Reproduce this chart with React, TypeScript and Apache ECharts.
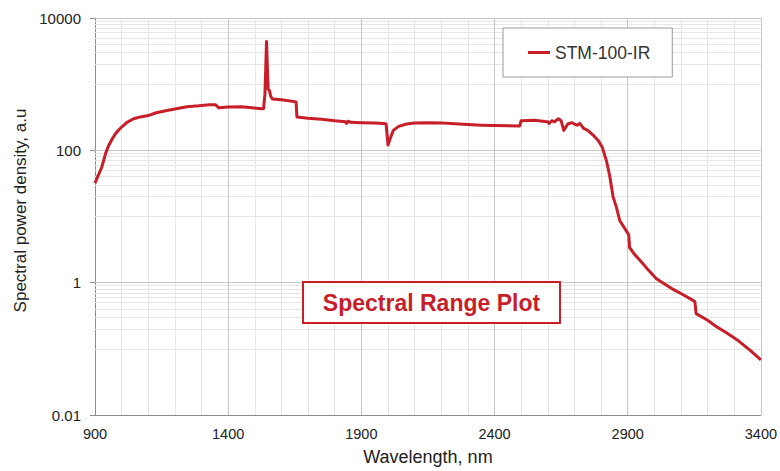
import React, { useEffect, useRef } from "react";
import * as echarts from "echarts";

const wavelengths = [
  900, 910, 925, 940, 950, 965, 980, 1000, 1020, 1045, 1070, 1100, 1130, 1170, 1200, 1245, 1290, 1330, 1352, 1365,
  1400, 1450, 1490, 1527, 1533, 1538, 1544, 1550, 1555, 1560, 1566, 1600, 1655, 1658, 1700, 1750, 1800, 1840, 1845,
  1850, 1860, 1900, 1950, 1985, 1993, 2000, 2008, 2020, 2040, 2070, 2100, 2150, 2200, 2250, 2300, 2350, 2400, 2450,
  2495, 2500, 2550, 2590, 2600, 2605, 2615, 2625, 2640, 2650, 2660, 2675, 2690, 2700, 2710, 2720, 2735, 2750, 2770,
  2790, 2805, 2820, 2832, 2845, 2858, 2870, 2890, 2904, 2907, 2925, 2945, 2975, 3008, 3040, 3071, 3110, 3145, 3152,
  3157, 3200, 3231, 3275, 3317, 3360, 3400,
];
const density = [
  32, 40, 55, 90, 115, 150, 185, 225, 265, 300, 320, 335, 370, 400, 420, 455, 470, 490, 490, 440,
  450, 455, 440, 425, 430, 700, 4400, 840, 800, 650, 597, 580, 540, 320, 305, 295, 280, 270, 255,
  275, 265, 262, 258, 255, 250, 120, 150, 200, 230, 250, 258, 262, 260, 252, 245, 240, 237, 235,
  234, 280, 285, 272, 270, 255, 280, 270, 300, 280, 200, 250, 262, 250, 240, 255, 214, 200, 170,
  140, 110, 70, 42, 20, 13.6, 8.7, 6.5, 5.3, 3.4, 2.7, 2.2, 1.6, 1.15, 0.95, 0.79, 0.65, 0.54, 0.52,
  0.34, 0.27, 0.22, 0.17, 0.131, 0.095, 0.068,
];

const xMajorLines = [1400, 1900, 2400, 2900, 3400];
const yMajorLines = [10000, 100, 1];
const yMinorLines = [
  1000, 2000, 3000, 4000, 5000, 6000, 7000, 8000, 9000,
  10, 20, 30, 40, 50, 60, 70, 80, 90,
  0.1, 0.2, 0.3, 0.4, 0.5, 0.6, 0.7, 0.8, 0.9,
];

const RED = "#c81e29";
const FONT = "Liberation Sans, Arial, Helvetica, sans-serif";

export default function App() {
  const ref = useRef<HTMLDivElement>(null);
  useEffect(() => {
    if (!ref.current) return;
    document.body.style.margin = "0";
    document.body.style.overflow = "hidden";
    document.documentElement.style.overflow = "hidden";
    const chart = echarts.init(ref.current, undefined, { renderer: "svg" });
    const data = wavelengths.map((w, i) => [w, density[i]]);
    chart.setOption({
      animation: false,
      backgroundColor: "#ffffff",
      textStyle: { fontFamily: FONT },
      grid: { left: 95, right: 17, top: 18, bottom: 51, containLabel: false },
      legend: {
        data: ["STM-100-IR"],
        left: 503,
        top: 28,
        z: 20,
        padding: [15, 22, 15, 25],
        backgroundColor: "#ffffff",
        borderColor: "#9a9a9a",
        borderWidth: 1,
        icon: "rect",
        itemWidth: 22,
        itemHeight: 3,
        itemGap: 7,
        textStyle: { fontSize: 17.5, color: "#333333", fontFamily: FONT, lineHeight: 19 },
      },
      xAxis: {
        type: "value",
        min: 900,
        max: 3400,
        interval: 100,
        name: "Wavelength, nm",
        nameLocation: "middle",
        nameGap: 33,
        nameTextStyle: { fontSize: 18, color: "#222222", fontFamily: FONT },
        axisLine: { show: true, lineStyle: { color: "#8c8c8c", width: 1 } },
        axisTick: { show: false },
        axisLabel: {
          fontSize: 14.5,
          color: "#222222",
          margin: 11,
          fontFamily: FONT,
          formatter: (v: number) => ((v - 900) % 500 === 0 ? String(v) : ""),
        },
        splitLine: { show: true, lineStyle: { color: "#e6e6e6", width: 1 } },
      },
      yAxis: {
        type: "log",
        logBase: 10,
        min: 0.01,
        max: 10000,
        interval: 2,
        axisLine: { show: true, lineStyle: { color: "#8c8c8c", width: 1 } },
        axisTick: { show: true, length: 5, lineStyle: { color: "#8c8c8c" } },
        axisLabel: {
          fontSize: 15,
          color: "#222222",
          margin: 14,
          fontFamily: FONT,
          formatter: (v: number) => {
            const e = Math.round(Math.log10(v));
            if (e % 2 !== 0) return "";
            return e < 0 ? (0.01).toString() : String(Math.pow(10, e));
          },
        },
        splitLine: { show: true, lineStyle: { color: "#c8c8c8", width: 1 } },
      },
      series: [
        {
          name: "grid",
          type: "line",
          data: [],
          silent: true,
          z: 1,
          markLine: {
            silent: true,
            z: 1,
            symbol: ["none", "none"],
            label: { show: false },
            animation: false,
            data: [
              ...yMinorLines.map((v) => ({ yAxis: v, lineStyle: { color: "#e6e6e6", width: 1, type: "solid" } })),
              ...yMajorLines.map((v) => ({ yAxis: v, lineStyle: { color: "#c8c8c8", width: 1, type: "solid" } })),
              ...xMajorLines.map((v) => ({ xAxis: v, lineStyle: { color: "#c8c8c8", width: 1, type: "solid" } })),
            ],
          },
        },
        {
          name: "STM-100-IR",
          type: "line",
          data,
          z: 5,
          showSymbol: false,
          symbol: "none",
          color: RED,
          lineStyle: { color: RED, width: 3, join: "round" },
        },
      ],
      graphic: [
        {
          type: "text",
          z: 50,
          x: 20,
          y: 210.5,
          rotation: Math.PI / 2,
          style: {
            text: "Spectral power density, a.u",
            fill: "#222222",
            font: `17px ${FONT}`,
            align: "center",
            verticalAlign: "middle",
          },
        },
        {
          type: "rect",
          z: 100,
          shape: { x: 303, y: 282, width: 257, height: 41 },
          style: { fill: "#ffffff", stroke: RED, lineWidth: 2 },
        },
        {
          type: "text",
          z: 101,
          x: 431.5,
          y: 303,
          style: {
            text: "Spectral Range Plot",
            fill: RED,
            font: `bold 23px ${FONT}`,
            align: "center",
            verticalAlign: "middle",
          },
        },
      ],
    });
    return () => chart.dispose();
  }, []);
  return (
    <div
      ref={ref}
      style={{ position: "fixed", left: 0, top: 0, width: 780, height: 471 }}
    />
  );
}
